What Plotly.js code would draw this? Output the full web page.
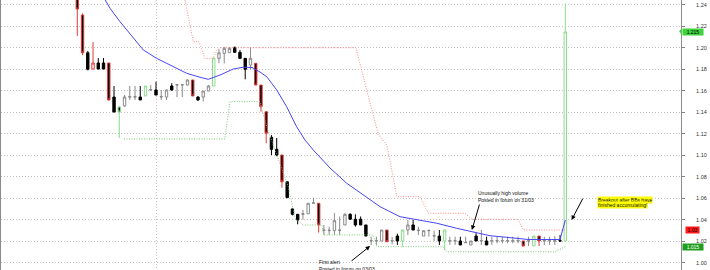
<!DOCTYPE html>
<html><head><meta charset="utf-8">
<script src="https://cdn.plot.ly/plotly-3.0.1.min.js"></script>
<style>html,body{margin:0;padding:0;background:#fff}#chart{width:710px;height:270px}</style>
</head><body><div id="chart"></div>
<script>
// ---- candle data (one entry per trading session, left to right) ----
const openV = [
1.262,1.2304,1.1953,1.1802,1.1858,1.1858,1.1858,1.1541,1.1448,1.1458,
1.154,1.154,1.1541,1.1551,1.1607,1.1607,1.1541,1.1541,1.1644,1.1653,
1.1653,1.1653,1.170,1.1541,1.1541,1.1597,1.1644,1.1901,1.1948,1.1953,
1.2004,1.1957,1.1901,1.1839,1.1855,1.1653,1.1405,1.1167,1.1055,1.1002,
1.0753,1.050,1.045,1.045,1.0455,1.0553,1.0553,1.030,1.0298,1.0298,
1.030,1.0351,1.045,1.0404,1.0404,1.0351,1.0202,1.0202,1.0202,1.0304,
1.0202,1.0248,1.0202,1.0304,1.0351,1.0298,1.0248,1.0298,1.0248,1.0248,
1.0202,1.0202,1.0202,1.0202,1.0185,1.0165,1.0248,1.0202,1.0202,1.0202,
1.0202,1.0202,1.0202,1.0202,1.0202,1.0202,1.0202,1.0155,1.0248,1.0202,
1.0202,1.0202,1.0205,1.0202];
const highV = [
1.265,1.232,1.197,1.2053,1.1904,1.1904,1.186,1.1644,1.146,1.156,
1.1644,1.1644,1.1644,1.1644,1.1653,1.1684,1.1607,1.161,1.167,1.1658,
1.1658,1.1705,1.170,1.155,1.1597,1.1653,1.1904,1.1985,1.2009,1.2004,
1.2009,1.1979,1.1901,1.2004,1.1858,1.1653,1.1405,1.1187,1.116,1.1002,
1.0753,1.051,1.045,1.049,1.0553,1.0605,1.0553,1.0351,1.0335,1.0462,
1.043,1.046,1.046,1.045,1.043,1.0351,1.0242,1.0242,1.0304,1.0304,
1.024,1.027,1.0304,1.0397,1.0397,1.0335,1.030,1.0302,1.0298,1.0304,
1.0304,1.0242,1.0242,1.0242,1.0242,1.0202,1.0275,1.0304,1.0242,1.0242,
1.0242,1.0242,1.0242,1.0242,1.0242,1.0202,1.0242,1.0248,1.0248,1.0242,
1.0242,1.0248,1.0258,1.2413];
const lowV = [
1.211,1.193,1.179,1.180,1.180,1.180,1.151,1.140,1.116,1.145,
1.1514,1.1514,1.1514,1.1551,1.160,1.156,1.1514,1.1514,1.160,1.1541,
1.1541,1.165,1.155,1.1505,1.150,1.1597,1.1644,1.1855,1.1855,1.1953,
1.1957,1.1901,1.1706,1.1799,1.1653,1.1405,1.1111,1.1002,1.099,1.0698,
1.0605,1.044,1.0357,1.040,1.0455,1.0553,1.028,1.0258,1.0258,1.0258,
1.0258,1.035,1.0404,1.0335,1.0351,1.0248,1.0165,1.0165,1.0202,1.0195,
1.017,1.0165,1.0149,1.0258,1.0304,1.0258,1.0248,1.0242,1.0202,1.0165,
1.0118,1.0165,1.0165,1.0165,1.0185,1.0165,1.0202,1.0165,1.0165,1.0165,
1.018,1.018,1.018,1.018,1.018,1.0155,1.0155,1.0155,1.0155,1.0165,
1.0165,1.0165,1.0202,1.0202];
const closeV = [
1.236,1.1953,1.1799,1.1858,1.1802,1.1802,1.1514,1.1402,1.1402,1.1541,
1.1545,1.1545,1.1514,1.1644,1.161,1.156,1.1545,1.1607,1.1607,1.1656,
1.1656,1.170,1.1551,1.1514,1.1597,1.1644,1.1904,1.1953,1.1994,1.1994,
1.1957,1.1901,1.1799,1.1901,1.1653,1.1451,1.1204,1.1055,1.1002,1.0753,
1.0605,1.045,1.0397,1.0455,1.0553,1.0556,1.0351,1.0304,1.0302,1.0391,
1.0304,1.045,1.0404,1.0351,1.0351,1.0248,1.0205,1.0205,1.0304,1.0195,
1.0205,1.0202,1.0304,1.0351,1.0304,1.0302,1.0298,1.0301,1.0251,1.0202,
1.0304,1.0205,1.0205,1.0165,1.0188,1.0202,1.0202,1.0205,1.0165,1.0205,
1.0205,1.0205,1.0205,1.0205,1.0205,1.0155,1.0205,1.0248,1.0202,1.0205,
1.0205,1.0205,1.0202,1.2147];
// candle outline class: n = normal, r = red outlined, g = green outlined
const candleStyle = [
'r','r','n','r','n','n','r','n','g','n',
'n','n','n','g','n','n','n','n','n','n',
'n','n','r','n','n','n','g','n','n','n',
'n','n','n','n','r','r','r','n','n','r',
'n','n','n','n','n','n','r','n','n','n',
'n','n','n','n','n','n','n','n','n','r',
'n','n','g','n','n','n','n','n','n','n',
'g','n','n','n','n','n','n','n','n','n',
'n','n','n','n','n','r','n','g','r','n',
'n','n','n','g'];

// ---- moving average (blue) ----
const maX = [4.8,6.23,8.14,10.04,12.58,15.13,17.67,20.85,23.39,24.97,27.2,29.73,31.64,33.3,34.82,36.1,38.0,39.9,41.8,43.4,44.98,48.16,51.34,54.5,57.7,61.5,64.7,68.5,72.3,75.2,78.65,82.5,85.9,92.0,93];
const maY = [1.249,1.2367,1.2242,1.2134,1.1979,1.1901,1.1839,1.1762,1.1725,1.1706,1.1746,1.1802,1.1819,1.1816,1.1774,1.173,1.1607,1.1451,1.1265,1.1141,1.1048,1.0881,1.0739,1.063,1.0521,1.0428,1.0397,1.0367,1.032,1.0288,1.0251,1.0233,1.0216,1.0216,1.0397];
// ---- upper channel (red dotted) ----
const upX = [20.26,22.1,23.2,24.3,25.9,26.6,27.2,53.1,55.15,57.4,59.0,60.9,65.3,66.9,73.9,75.2,84.0,85.0,93];
const upY = [1.251,1.2056,1.2056,1.1901,1.1901,1.1979,1.200,1.200,1.1607,1.1188,1.1095,1.0614,1.0614,1.046,1.046,1.0404,1.0404,1.0304,1.0304];
// ---- lower channel (green dotted) ----
const loX = [8.9,28.1,29.1,34.8,36.1,40.2,41.5,43.0,46.6,47.0,56.4,57.1,69.7,70.4,91.0,93.0];
const loY = [1.1151,1.1151,1.1498,1.1498,1.1265,1.0707,1.0413,1.0351,1.0351,1.0258,1.0258,1.0149,1.0149,1.0102,1.0102,1.0149];
// ---- axis ticks & tags ----
const yTicks = [1.00,1.02,1.04,1.06,1.08,1.10,1.12,1.14,1.16,1.18,1.20,1.22,1.24];
const monthSplit = [15];
const lastClose = 1.215, upperLast = 1.03, lowerLast = 1.015;

const FONT = 'Liberation Sans, Arial, sans-serif';
const idx = openV.map((_, i) => i);

const styleDefs = {
  n: {incLine:'#8a8a8a', decLine:'#000000'},
  r: {incLine:'#e23c3c', decLine:'#e23c3c'},
  g: {incLine:'#8cdc8c', decLine:'#8cdc8c'}
};

const traces = [];
traces.push({type:'scatter', mode:'lines', x:upX, y:upY, hoverinfo:'skip',
  line:{color:'#ff8a8a', width:1, dash:'1px,1.5px'}});
traces.push({type:'scatter', mode:'lines', x:loX, y:loY, hoverinfo:'skip',
  line:{color:'#78c878', width:1, dash:'1px,1.5px'}});
traces.push({type:'scatter', mode:'lines', x:maX, y:maY, hoverinfo:'skip',
  line:{color:'#4646f5', width:1}});

Object.keys(styleDefs).forEach(k => {
  const sel = idx.filter(i => candleStyle[i] === k);
  const d = styleDefs[k];
  traces.push({
    type:'candlestick',
    x: sel, open: sel.map(i=>openV[i]), high: sel.map(i=>highV[i]),
    low: sel.map(i=>lowV[i]), close: sel.map(i=>closeV[i]),
    whiskerwidth: 0, hoverinfo:'skip',
    increasing:{line:{color:d.incLine, width:1}, fillcolor:'#ffffff'},
    decreasing:{line:{color:d.decLine, width:1}, fillcolor:'#000000'}
  });
});

const annFont = {family:FONT, size:5, color:'#111'};
const annotations = [
  {x:45.9, y:1.0046, xref:'x', yref:'y', xanchor:'left', yanchor:'top', align:'left',
   text:'First alert<br>Posted in forum on 03/03', showarrow:false, font:annFont, borderpad:0},
  {x:55.8, y:1.0155, xref:'x', yref:'y', text:'', showarrow:true, ax:-20, ay:16,
   arrowhead:2, arrowsize:0.9, arrowwidth:1, arrowcolor:'#000'},
  {x:76.1, y:1.0686, xref:'x', yref:'y', xanchor:'left', yanchor:'top', align:'left',
   text:'Unusually high volume<br>Posted in forum on 31/03', showarrow:false, font:annFont, borderpad:0},
  {x:75.2, y:1.0304, xref:'x', yref:'y', text:'', showarrow:true, ax:8, ay:-27,
   arrowhead:2, arrowsize:0.9, arrowwidth:1, arrowcolor:'#000'},
  {x:99.05, y:1.0625, xref:'x', yref:'y', xanchor:'left', yanchor:'top', align:'left',
   text:'Breakout after BBs have', showarrow:false, font:annFont, borderpad:0, bgcolor:'#ffff00'},
  {x:99.05, y:1.0572, xref:'x', yref:'y', xanchor:'left', yanchor:'top', align:'left',
   text:'finished accumulating!', showarrow:false, font:annFont, borderpad:0, bgcolor:'#ffff00'},
  {x:94.2, y:1.0397, xref:'x', yref:'y', text:'', showarrow:true, ax:12, ay:-23,
   arrowhead:2, arrowsize:0.9, arrowwidth:1, arrowcolor:'#000'},
  {x:1.001, y:lastClose, xref:'paper', yref:'y', xanchor:'left', yanchor:'middle',
   text:lastClose.toFixed(3), showarrow:false, bgcolor:'#3fd23f', width:20, height:6, borderpad:0,
   font:{family:FONT, size:5, color:'#000'}},
  {x:1.0065, y:upperLast, xref:'paper', yref:'y', xanchor:'left', yanchor:'middle',
   text:upperLast.toFixed(2), showarrow:false, bgcolor:'#ff1a1a', width:13, height:6, borderpad:0,
   font:{family:FONT, size:5, color:'#000'}},
  {x:1.001, y:lowerLast, xref:'paper', yref:'y', xanchor:'left', yanchor:'middle',
   text:lowerLast.toFixed(3), showarrow:false, bgcolor:'#1f9e1f', width:20, height:6, borderpad:0,
   font:{family:FONT, size:5, color:'#fff'}}
];

const layout = {
  width:710, height:270,
  margin:{l:1, r:29, t:0, b:0, pad:0},
  paper_bgcolor:'#ffffff', plot_bgcolor:'#ffffff',
  showlegend:false, boxgap:0.35,
  xaxis:{range:[-14.54,115.05], tickvals:monthSplit, showticklabels:false, ticks:'',
    showgrid:true, gridcolor:'#c4c4c4', griddash:'1px,2px', gridwidth:1,
    zeroline:false, showline:false, rangeslider:{visible:false}, fixedrange:true},
  yaxis:{side:'right', range:[0.9932,1.2444], tickvals:yTicks,
    ticktext:yTicks.map(v=>v.toFixed(2)), ticks:'outside', ticklen:3, tickcolor:'#808080',
    ticklabelstandoff:10,
    showgrid:true, gridcolor:'#c4c4c4', griddash:'1px,2px', gridwidth:1,
    zeroline:false, showline:true, linecolor:'#8c8c8c', linewidth:1, mirror:true,
    tickfont:{family:FONT, size:5.5, color:'#333'}, fixedrange:true},
  shapes:[
    {type:'path', xref:'paper', yref:'y', layer:'above',
     path:'M 1.0012,' + (lastClose+0.0028) + ' L 0.9972,' + lastClose + ' L 1.0012,' + (lastClose-0.0028) + ' Z',
     fillcolor:'#3fd23f', line:{width:0}}
  ],
  annotations: annotations
};

Plotly.newPlot('chart', traces, layout, {staticPlot:true, displayModeBar:false});
</script>
</body></html>
